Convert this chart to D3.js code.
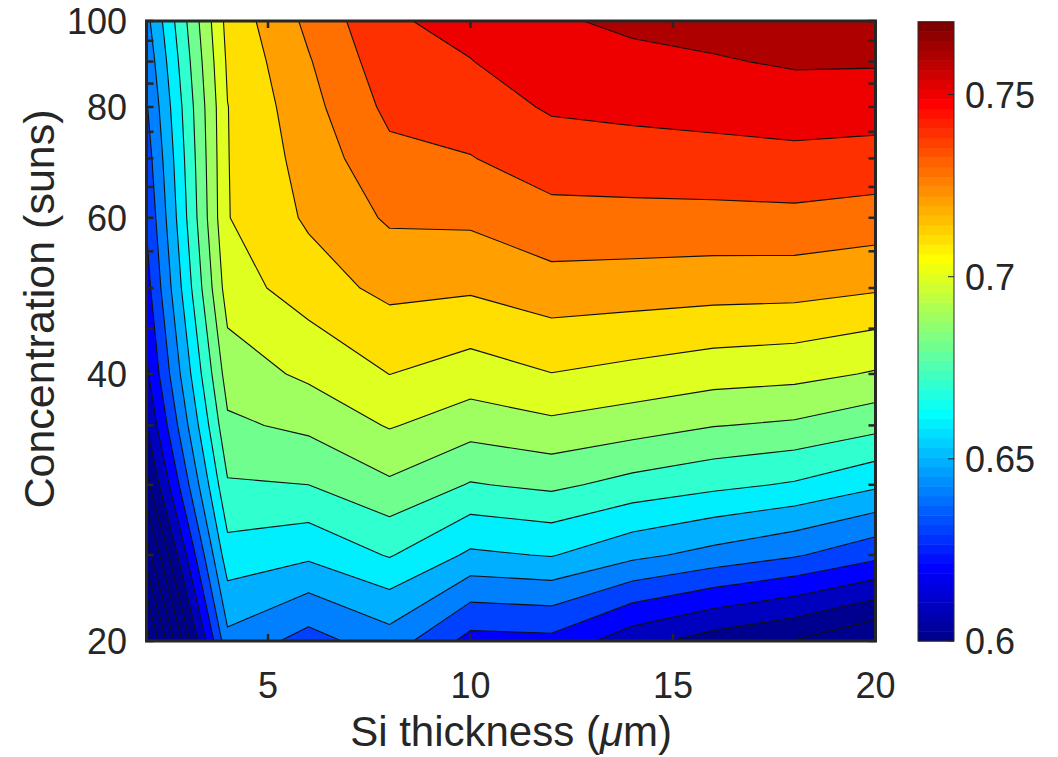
<!DOCTYPE html>
<html>
<head>
<meta charset="utf-8">
<script src="https://cdn.jsdelivr.net/npm/d3@7"></script>
<style>
  body { margin: 0; background: #fff; }
  text { font-family: "Liberation Sans", Arial, Helvetica, sans-serif; fill: #262626; }
</style>
</head>
<body>
<svg id="chart" width="1058" height="757"></svg>
<script>
// grid the efficiency was computed on
var thickness = [2, 4, 6, 8, 10, 12, 14, 16, 18, 20];
var suns = [20, 25, 30, 35, 40, 50, 60, 70, 80, 90, 100];

// efficiency, one row per concentration (bottom row first), one column per thickness
var eff = [
  [0.545, 0.6472, 0.6361, 0.6456, 0.6265, 0.6273, 0.6139, 0.6055, 0.5995, 0.5905],
  [0.575, 0.6661, 0.6621, 0.6708, 0.6583, 0.6606, 0.6526, 0.6467, 0.6411, 0.6330],
  [0.597, 0.6790, 0.6800, 0.6884, 0.6793, 0.6822, 0.6766, 0.6726, 0.6689, 0.6619],
  [0.610, 0.6881, 0.6923, 0.7008, 0.6944, 0.6979, 0.6946, 0.6904, 0.6885, 0.6832],
  [0.618, 0.6948, 0.7020, 0.7101, 0.7057, 0.7098, 0.7073, 0.7045, 0.7031, 0.6991],
  [0.626, 0.7050, 0.7153, 0.7227, 0.7215, 0.7261, 0.7253, 0.7243, 0.7239, 0.7213],
  [0.631, 0.7096, 0.7215, 0.7314, 0.7320, 0.7371, 0.7372, 0.7373, 0.7377, 0.7360],
  [0.635, 0.7097, 0.7241, 0.7374, 0.7396, 0.7449, 0.7459, 0.7467, 0.7476, 0.7466],
  [0.639, 0.7098, 0.7267, 0.7425, 0.7450, 0.7512, 0.7525, 0.7536, 0.7549, 0.7544],
  [0.643, 0.7115, 0.7292, 0.7460, 0.7497, 0.7560, 0.7575, 0.7591, 0.7612, 0.7610],
  [0.647, 0.7133, 0.7323, 0.7487, 0.7532, 0.7587, 0.7620, 0.7640, 0.7650, 0.7660]
];

var levels = [0.50, 0.51, 0.52, 0.53, 0.54, 0.55, 0.56, 0.57, 0.58, 0.59,
              0.60, 0.61, 0.62, 0.63, 0.64, 0.65, 0.66, 0.67, 0.68, 0.69,
              0.70, 0.71, 0.72, 0.73, 0.74, 0.75, 0.76];

var xTicks = [5, 10, 15, 20];
var yTicks = [20, 25, 30, 35, 40, 45, 50, 55, 60, 65, 70, 75, 80, 85, 90, 95, 100];
var yLabels = [20, 40, 60, 80, 100];
var cTicks = [0.6, 0.65, 0.7, 0.75];
var cRange = [0.6, 0.77];

var svg = d3.select("#chart");

var x = d3.scaleLinear().domain([2, 20]).range([146.5, 875.5]);
var y = d3.scaleLog().domain([20, 100]).range([641, 21]);

// matlab jet(64)
function jet64(i) {
    var r = i <= 24 ? 0 : i <= 40 ? (i - 24) / 16 : i <= 56 ? 1 : (72 - i) / 16;
    var g = i <= 8 ? 0 : i <= 24 ? (i - 8) / 16 : i <= 40 ? 1 : i <= 55 ? (56 - i) / 16 : 0;
    var b = i <= 8 ? (i + 8) / 16 : i <= 24 ? 1 : i <= 39 ? (40 - i) / 16 : 0;
    return d3.rgb(r * 255, g * 255, b * 255).toString();
}
function colorOf(v) {
    var i = Math.floor((v - cRange[0]) / (cRange[1] - cRange[0]) * 64) + 1;
    return jet64(Math.max(1, Math.min(64, i)));
}

// grid coords from d3.contours -> data values
function gridToData(g, vals) {
    var t = Math.max(0, Math.min(vals.length - 1, g - 0.5));
    var i = Math.min(vals.length - 2, Math.floor(t));
    return vals[i] + (t - i) * (vals[i + 1] - vals[i]);
}

var values = [];
eff.forEach(function(row) { row.forEach(function(v) { values.push(v); }); });

var contours = d3.contours()
    .size([thickness.length, suns.length])
    .thresholds(levels)(values);

var path = d3.geoPath(d3.geoTransform({
    point: function(gx, gy) {
        this.stream.point(x(gridToData(gx, thickness)), y(gridToData(gy, suns)));
    }
}));

var plot = svg.append("g");
plot.append("rect")
    .attr("x", 146.5).attr("y", 21)
    .attr("width", 729).attr("height", 620)
    .attr("fill", colorOf(levels[0]));

plot.selectAll(".band")
    .data(contours)
    .enter().append("path")
    .attr("class", "band")
    .attr("d", path)
    .attr("fill", function(d) { return colorOf(d.value); })
    .attr("stroke", "#111")
    .attr("stroke-width", 1.1)
    .attr("stroke-linejoin", "round");

// axes box + ticks
var axes = svg.append("g").attr("stroke", "#262626").attr("stroke-width", 2.5);
xTicks.forEach(function(t) {
    axes.append("line").attr("x1", x(t)).attr("x2", x(t)).attr("y1", 641).attr("y2", 634);
    axes.append("line").attr("x1", x(t)).attr("x2", x(t)).attr("y1", 21).attr("y2", 28);
});
yTicks.forEach(function(t) {
    axes.append("line").attr("x1", 146.5).attr("x2", 153.5).attr("y1", y(t)).attr("y2", y(t));
    axes.append("line").attr("x1", 875.5).attr("x2", 868.5).attr("y1", y(t)).attr("y2", y(t));
});
axes.append("rect")
    .attr("x", 146.5).attr("y", 21)
    .attr("width", 729).attr("height", 620)
    .attr("fill", "none").attr("stroke-width", 3);

svg.selectAll(".xlab")
    .data(xTicks)
    .enter().append("text")
    .attr("x", function(d) { return x(d); })
    .attr("y", 698)
    .attr("text-anchor", "middle")
    .style("font-size", "36px")
    .text(function(d) { return d; });

svg.selectAll(".ylab")
    .data(yLabels)
    .enter().append("text")
    .attr("x", 127)
    .attr("y", function(d) { return y(d); })
    .attr("dy", "0.36em")
    .attr("text-anchor", "end")
    .style("font-size", "36px")
    .text(function(d) { return d; });

var xl = svg.append("text")
    .attr("x", 511).attr("y", 746)
    .attr("text-anchor", "middle")
    .style("font-size", "42px");
xl.append("tspan").text("Si thickness (");
xl.append("tspan").style("font-style", "italic").text("\u03bc");
xl.append("tspan").text("m)");

svg.append("text")
    .attr("transform", "translate(54,309) rotate(-90)")
    .attr("text-anchor", "middle")
    .style("font-size", "43px")
    .text("Concentration (suns)");

// colorbar
var cy = d3.scaleLinear().domain(cRange).range([641, 21.7]);
var cbar = svg.append("g");
d3.range(64).forEach(function(k) {
    var v0 = cRange[0] + k * (cRange[1] - cRange[0]) / 64;
    var v1 = cRange[0] + (k + 1) * (cRange[1] - cRange[0]) / 64;
    cbar.append("rect")
        .attr("x", 918).attr("width", 36)
        .attr("y", cy(v1)).attr("height", cy(v0) - cy(v1) + 0.5)
        .attr("fill", jet64(k + 1));
});
cbar.append("rect")
    .attr("x", 918).attr("y", 21.7)
    .attr("width", 36).attr("height", 641 - 21.7)
    .attr("fill", "none").attr("stroke", "#262626").attr("stroke-width", 1);
cTicks.forEach(function(t) {
    cbar.append("line")
        .attr("x1", 954).attr("x2", 948)
        .attr("y1", cy(t)).attr("y2", cy(t))
        .attr("stroke", "#262626").attr("stroke-width", 1);
    cbar.append("text")
        .attr("x", 965).attr("y", cy(t))
        .attr("dy", "0.36em")
        .style("font-size", "36px")
        .text(t);
});
</script>
</body>
</html>
